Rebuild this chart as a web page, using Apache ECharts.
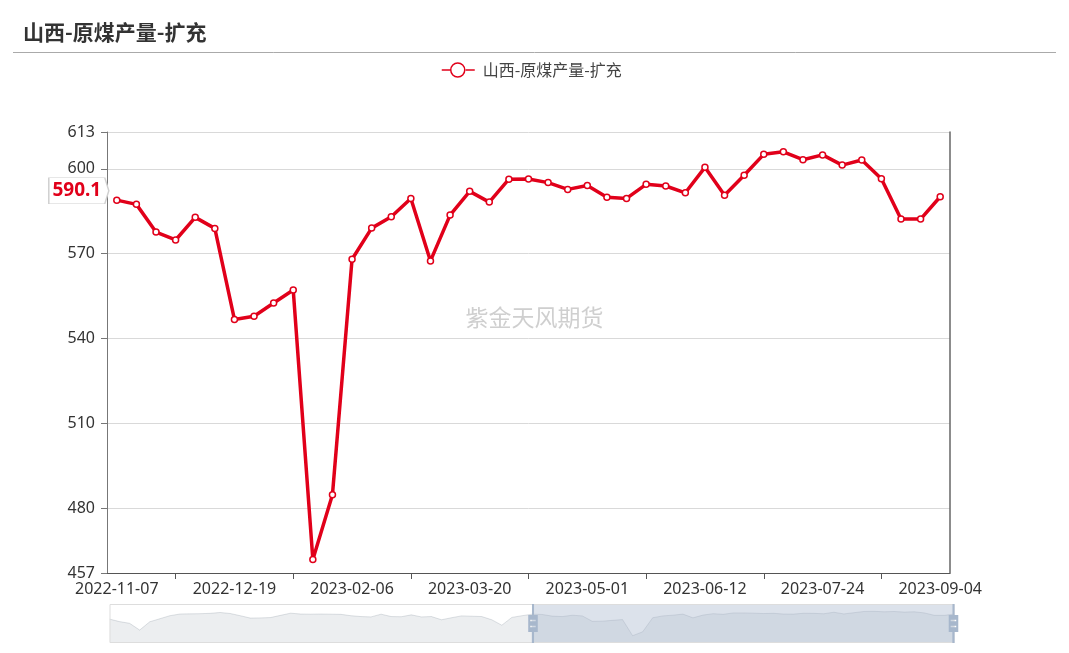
<!DOCTYPE html>
<html>
<head>
<meta charset="utf-8">
<script src="https://cdn.jsdelivr.net/npm/echarts@6/dist/echarts.min.js"></script>
<style>
html,body{margin:0;padding:0;background:#fff;}
#chart{width:1069px;height:653px;}
</style>
</head>
<body>
<div id="chart"></div>
<script>
// ---- data ----
const chartTitle = '山西-原煤产量-扩充';
const seriesName = '山西-原煤产量-扩充';
const watermark = '紫金天风期货';

// earlier weeks (only visible in the zoom slider)
const earlierDates = ['2022-01-03','2022-01-10','2022-01-17','2022-01-24','2022-02-07','2022-02-14','2022-02-21','2022-02-28','2022-03-07','2022-03-14','2022-03-21','2022-03-28','2022-04-04','2022-04-11','2022-04-18','2022-04-25','2022-05-02','2022-05-09','2022-05-16','2022-05-23','2022-05-30','2022-06-06','2022-06-13','2022-06-20','2022-06-27','2022-07-04','2022-07-11','2022-07-18','2022-07-25','2022-08-01','2022-08-08','2022-08-15','2022-08-22','2022-08-29','2022-09-05','2022-09-12','2022-09-19','2022-09-26','2022-10-10','2022-10-17','2022-10-24','2022-10-31'];
const earlierValues = [560, 545, 535, 495, 544, 562, 580, 590, 591, 592, 594, 599, 593, 580, 566, 567, 569, 582, 595, 590, 589, 590, 589, 588, 580, 575, 573, 589, 575, 574, 585, 573, 575, 556, 568, 579, 577, 575, 556, 524, 570, 580];

// visible weeks
const dates = ['2022-11-07','2022-11-14','2022-11-21','2022-11-28','2022-12-05','2022-12-12','2022-12-19','2022-12-26','2023-01-02','2023-01-09','2023-01-16','2023-01-30','2023-02-06','2023-02-13','2023-02-20','2023-02-27','2023-03-06','2023-03-13','2023-03-20','2023-03-27','2023-04-03','2023-04-10','2023-04-17','2023-04-24','2023-05-01','2023-05-08','2023-05-15','2023-05-22','2023-05-29','2023-06-05','2023-06-12','2023-06-19','2023-06-26','2023-07-03','2023-07-10','2023-07-17','2023-07-24','2023-07-31','2023-08-07','2023-08-14','2023-08-21','2023-08-28','2023-09-04'];
const values = [588.9, 587.4, 577.6, 574.8, 582.8, 578.9, 546.7, 547.8, 552.5, 557.1, 461.8, 484.7, 568.0, 579.0, 583.0, 589.5, 567.4, 583.6, 592.0, 588.2, 596.3, 596.4, 595.1, 592.7, 594.1, 589.9, 589.5, 594.5, 593.9, 591.5, 600.5, 590.6, 597.7, 605.1, 606.0, 603.2, 604.9, 601.3, 603.1, 596.5, 582.2, 582.2, 590.1];

const yMin = 457;
const yMax = 613;

// ---- build ----
const allDates = earlierDates.concat(dates);
const allValues = earlierValues.concat(values);
const START = earlierDates.length;
const END = allDates.length - 1;
const lastValue = values[values.length - 1];
const RED = '#e1001a';
const FONT = '"Noto Sans", "Noto Sans CJK SC", sans-serif';

const chart = echarts.init(document.getElementById('chart'), null, {renderer: 'canvas'});
chart.setOption({
  animation: false,
  backgroundColor: '#fff',
  title: {
    text: chartTitle,
    left: 18,
    top: 17,
    textStyle: {fontSize: 21, fontWeight: 'bold', color: '#333', fontFamily: '"Noto Sans CJK SC", sans-serif'}
  },
  graphic: [
    {type: 'line', shape: {x1: 13, y1: 52.5, x2: 1056, y2: 52.5}, style: {stroke: '#aaa', lineWidth: 1}, silent: true},
    {type: 'text', left: 'center', top: 306, style: {text: watermark, fill: '#cfcfcf', font: '23px "Noto Sans CJK SC", sans-serif'}, silent: true, z: 0}
  ],
  legend: {
    top: 57,
    left: 436,
    itemWidth: 33,
    itemHeight: 14,
    itemGap: 10,
    textStyle: {fontSize: 16, color: '#444', fontFamily: '"Noto Sans CJK SC", sans-serif', padding: [0, 0, 0, 3]},
    data: [{name: seriesName, icon: 'path://M0,7H9A7,7,0,1,1,9,7.01ZM24,7H33', itemStyle: {color: '#fff', borderColor: RED, borderWidth: 1.5}}]
  },
  grid: {left: 107, right: 119, top: 132, bottom: 80, containLabel: false},
  xAxis: {
    type: 'category',
    data: allDates,
    boundaryGap: true,
    axisLine: {lineStyle: {color: '#555', width: 1}},
    axisTick: {
      show: true,
      length: 6,
      alignWithLabel: true,
      interval: function (i) { return (i - START) % 6 === 3; },
      lineStyle: {color: '#555'}
    },
    axisLabel: {
      interval: function (i) { return (i - START) % 6 === 0; },
      fontSize: 16, color: '#333', margin: 8, fontFamily: FONT
    },
    splitLine: {show: false}
  },
  yAxis: [{
    type: 'value',
    min: yMin,
    max: yMax,
    axisLine: {show: true, lineStyle: {color: '#777'}},
    axisTick: {show: true, length: 6, lineStyle: {color: '#777'}},
    axisLabel: {fontSize: 16, color: '#333', margin: 12, fontFamily: FONT, showMinLabel: true, showMaxLabel: true},
    splitLine: {show: true, lineStyle: {color: '#d9d9d9'}}
  }, {
    type: 'value',
    position: 'right',
    min: yMin,
    max: yMax,
    axisLine: {show: true, lineStyle: {color: '#666', width: 1.5}},
    axisTick: {show: false},
    axisLabel: {show: false},
    splitLine: {show: false}
  }],
  dataZoom: [{
    type: 'slider',
    xAxisIndex: 0,
    startValue: START,
    endValue: END,
    left: 107,
    right: 117,
    top: 604,
    height: 39,
    showDetail: false,
    brushSelect: false,
    moveHandleSize: 0,
    borderColor: '#ddd',
    backgroundColor: 'rgba(47,69,84,0)',
    fillerColor: 'rgba(167,183,204,0.4)',
    handleIcon: 'path://M8.2,13.6V3.9H6.3v9.7H3.1v14.9h3.3v9.7h1.8v-9.7h3.3V13.6H8.2z M9.7,24.4H4.8v-1.4h4.9V24.4z M9.7,19.1H4.8v-1.4h4.9V19.1z',
    handleSize: '100%',
    handleStyle: {color: '#a7b7cc', borderColor: '#a7b7cc', borderWidth: 0, shadowBlur: 0, opacity: 1},
    emphasis: {handleStyle: {color: '#a7b7cc', borderColor: '#a7b7cc'}},
    dataBackground: {
      lineStyle: {color: '#2f4554', width: 0.5, opacity: 0.3},
      areaStyle: {color: 'rgba(47,69,84,0.3)', opacity: 0.3}
    },
    selectedDataBackground: {
      lineStyle: {color: '#2f4554', width: 0.5, opacity: 0.3},
      areaStyle: {color: 'rgba(47,69,84,0.3)', opacity: 0.3}
    },
    textStyle: {color: '#333'}
  }],
  series: [{
    name: seriesName,
    type: 'line',
    data: allValues,
    symbol: 'circle',
    symbolSize: 6,
    showSymbol: true,
    showAllSymbol: true,
    itemStyle: {color: '#fff', borderColor: RED, borderWidth: 1.5},
    lineStyle: {color: RED, width: 3.5},
    z: 3,
    markPoint: {
      symbol: 'path://M0,0H56L60,12L56,24H0Z',
      symbolSize: [60, 26],
      symbolOffset: [-38, -6],
      silent: true,
      itemStyle: {color: '#fff', borderColor: '#d0d0d0', borderWidth: 1},
      label: {show: true, position: 'inside', offset: [-2, 0], color: RED, fontWeight: 'bold', fontSize: 19, fontFamily: FONT},
      data: [{coord: [dates[0], lastValue], value: lastValue}]
    }
  }]
});
</script>
</body>
</html>
